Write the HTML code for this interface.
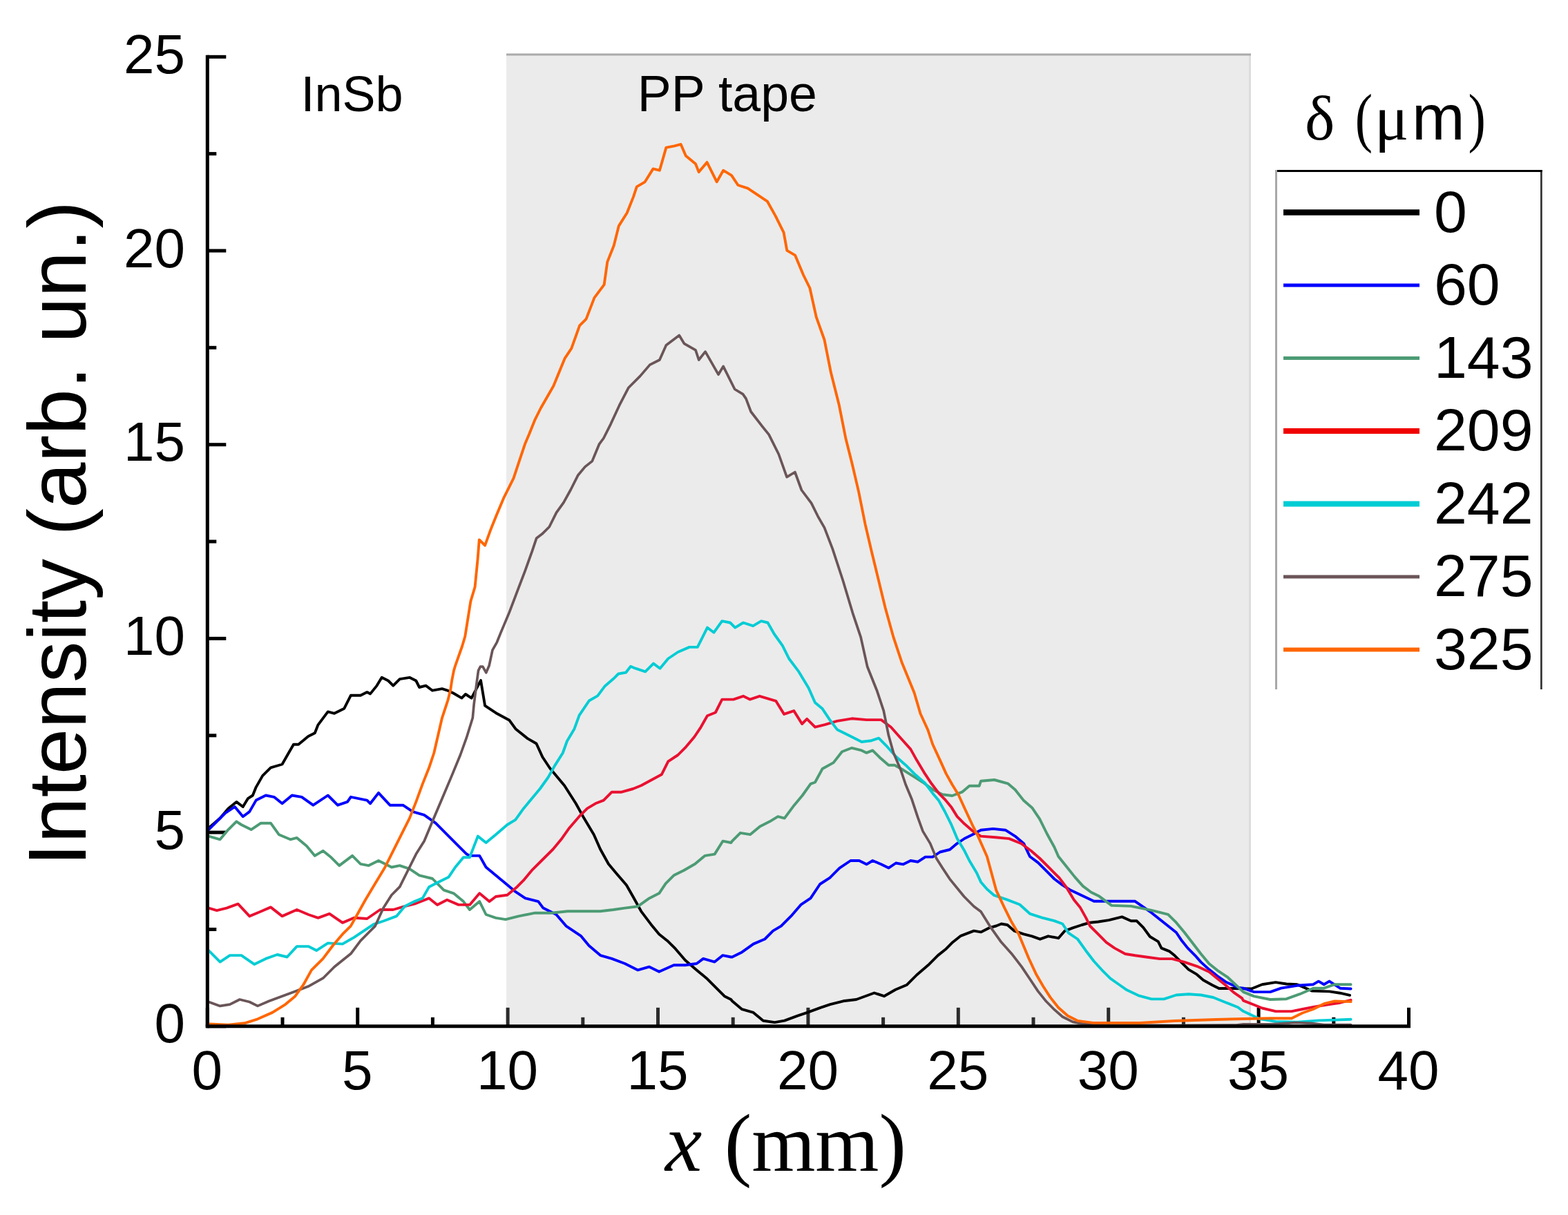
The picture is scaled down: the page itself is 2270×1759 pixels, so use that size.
<!DOCTYPE html>
<html><head><meta charset="utf-8"><title>Intensity vs x</title>
<style>
html,body{margin:0;padding:0;background:#fff;}
body{width:2270px;height:1759px;overflow:hidden;}
svg{display:block;}
.s{font-family:"Liberation Sans",Arial,sans-serif;}
.r{font-family:"Liberation Serif","Times New Roman",serif;}
</style></head><body>
<svg width="2270" height="1759" viewBox="0 0 2270 1759">
<rect x="0" y="0" width="2270" height="1759" fill="#ffffff"/>

<rect x="733" y="77.5" width="1078" height="1408.3" fill="#ebebeb"/>
<rect x="1808" y="77.5" width="3" height="1408.3" fill="#dcdcdc"/>
<rect x="733" y="77.5" width="1078" height="3" fill="#ababab"/>
<line x1="300.3" y1="1485.8" x2="300.3" y2="1458.8" stroke="#000" stroke-width="5"/>
<line x1="517.7" y1="1485.8" x2="517.7" y2="1458.8" stroke="#000" stroke-width="5"/>
<line x1="735.1" y1="1485.8" x2="735.1" y2="1458.8" stroke="#2b2b2b" stroke-width="5"/>
<line x1="952.5" y1="1485.8" x2="952.5" y2="1458.8" stroke="#2b2b2b" stroke-width="5"/>
<line x1="1169.9" y1="1485.8" x2="1169.9" y2="1458.8" stroke="#2b2b2b" stroke-width="5"/>
<line x1="1387.3" y1="1485.8" x2="1387.3" y2="1458.8" stroke="#2b2b2b" stroke-width="5"/>
<line x1="1604.7" y1="1485.8" x2="1604.7" y2="1458.8" stroke="#2b2b2b" stroke-width="5"/>
<line x1="1822.1" y1="1485.8" x2="1822.1" y2="1458.8" stroke="#000" stroke-width="5"/>
<line x1="2039.5" y1="1485.8" x2="2039.5" y2="1458.8" stroke="#000" stroke-width="5"/>
<line x1="409.0" y1="1485.8" x2="409.0" y2="1472.8" stroke="#000" stroke-width="5"/>
<line x1="626.4" y1="1485.8" x2="626.4" y2="1472.8" stroke="#000" stroke-width="5"/>
<line x1="843.8" y1="1485.8" x2="843.8" y2="1472.8" stroke="#2b2b2b" stroke-width="5"/>
<line x1="1061.2" y1="1485.8" x2="1061.2" y2="1472.8" stroke="#2b2b2b" stroke-width="5"/>
<line x1="1278.6" y1="1485.8" x2="1278.6" y2="1472.8" stroke="#2b2b2b" stroke-width="5"/>
<line x1="1496.0" y1="1485.8" x2="1496.0" y2="1472.8" stroke="#2b2b2b" stroke-width="5"/>
<line x1="1713.4" y1="1485.8" x2="1713.4" y2="1472.8" stroke="#2b2b2b" stroke-width="5"/>
<line x1="1930.8" y1="1485.8" x2="1930.8" y2="1472.8" stroke="#000" stroke-width="5"/>
<line x1="300.3" y1="1485.8" x2="327.3" y2="1485.8" stroke="#000" stroke-width="5"/>
<line x1="300.3" y1="1205.1" x2="327.3" y2="1205.1" stroke="#000" stroke-width="5"/>
<line x1="300.3" y1="924.4" x2="327.3" y2="924.4" stroke="#000" stroke-width="5"/>
<line x1="300.3" y1="643.7" x2="327.3" y2="643.7" stroke="#000" stroke-width="5"/>
<line x1="300.3" y1="363.0" x2="327.3" y2="363.0" stroke="#000" stroke-width="5"/>
<line x1="300.3" y1="82.3" x2="327.3" y2="82.3" stroke="#000" stroke-width="5"/>
<line x1="300.3" y1="1345.5" x2="313.3" y2="1345.5" stroke="#000" stroke-width="5"/>
<line x1="300.3" y1="1064.8" x2="313.3" y2="1064.8" stroke="#000" stroke-width="5"/>
<line x1="300.3" y1="784.0" x2="313.3" y2="784.0" stroke="#000" stroke-width="5"/>
<line x1="300.3" y1="503.3" x2="313.3" y2="503.3" stroke="#000" stroke-width="5"/>
<line x1="300.3" y1="222.6" x2="313.3" y2="222.6" stroke="#000" stroke-width="5"/>
<polyline fill="none" stroke="#000000" stroke-width="3.9" stroke-linejoin="round" stroke-linecap="round" points="302.1,1198.7 318.6,1184.6 330.5,1170.4 342.3,1160.9 351.7,1168.0 358.8,1156.2 365.9,1151.5 370.7,1139.6 380.1,1123.1 391.9,1111.3 408.5,1106.5 417.9,1090.0 425.0,1077.7 432.1,1077.7 446.3,1065.9 455.8,1061.2 460.5,1049.3 474.7,1030.4 484.1,1032.8 498.3,1025.7 507.8,1006.8 522.0,1006.8 531.4,1002.1 536.1,1004.4 545.6,992.6 552.7,980.8 562.1,985.5 569.2,992.6 578.7,983.1 592.9,980.8 602.3,985.5 607.1,995.0 616.5,992.6 626.0,999.7 640.0,997.2 647.1,999.3 656.3,1003.5 668.4,1010.6 674.0,1005.0 682.6,1010.6 696.0,985.1 702.1,1021.6 718.0,1032.2 737.5,1042.8 746.4,1055.2 764.1,1069.4 776.5,1076.5 785.4,1096.0 796.0,1112.0 817.1,1137.3 833.7,1163.3 845.5,1184.6 859.7,1208.2 869.1,1229.5 880.9,1250.8 892.8,1264.9 907.0,1281.5 916.4,1298.0 928.2,1319.3 942.4,1338.2 954.2,1352.4 966.1,1361.9 977.9,1373.7 992.1,1390.2 1008.6,1404.4 1022.8,1416.2 1037.0,1430.4 1048.8,1442.2 1058.3,1447.0 1060.0,1449.3 1074.2,1461.2 1090.7,1465.9 1104.9,1477.7 1121.5,1480.1 1135.7,1477.7 1154.6,1470.6 1168.7,1465.9 1187.7,1458.8 1201.8,1454.1 1220.8,1449.3 1239.7,1447.0 1265.7,1437.5 1279.9,1442.2 1296.4,1432.8 1313.0,1425.7 1327.1,1411.5 1343.7,1397.3 1357.9,1383.1 1369.7,1373.7 1379.1,1364.2 1391.0,1354.8 1409.9,1347.7 1420.0,1349.4 1431.8,1343.4 1442.2,1340.5 1449.6,1337.5 1458.4,1339.0 1468.8,1347.9 1482.1,1352.3 1493.9,1355.3 1505.7,1359.7 1517.5,1355.3 1532.3,1358.2 1541.2,1347.9 1553.0,1343.4 1566.3,1339.0 1577.9,1335.7 1589.8,1334.5 1605.2,1332.1 1624.3,1327.4 1637.4,1333.3 1645.7,1333.3 1655.2,1342.9 1664.8,1356.0 1676.7,1363.1 1681.4,1372.6 1693.3,1377.4 1700.5,1383.3 1720.7,1403.6 1732.6,1410.7 1742.1,1419.0 1755.2,1426.2 1764.8,1431.0 1786.2,1431.0 1811.7,1431.5 1827.2,1425.2 1846.7,1422.1 1862.3,1424.5 1877.8,1425.2 1899.6,1434.6 1924.5,1435.4 1940.1,1437.7 1954.1,1440.8"/>
<polyline fill="none" stroke="#0000ff" stroke-width="3.9" stroke-linejoin="round" stroke-linecap="round" points="302.1,1201.1 325.7,1177.5 339.9,1168.0 351.7,1182.2 361.2,1175.1 370.7,1158.6 384.8,1151.5 396.7,1153.8 408.5,1163.3 422.7,1151.5 436.8,1153.8 453.4,1165.7 474.7,1151.5 488.9,1165.7 503.0,1160.9 507.8,1153.8 531.4,1158.6 536.1,1163.3 548.0,1147.9 564.5,1165.7 583.4,1165.7 597.6,1175.1 614.1,1179.8 630.7,1191.7 649.6,1210.6 663.8,1224.8 675.6,1236.6 680.0,1238.9 694.2,1238.9 703.6,1255.5 717.8,1267.3 732.0,1279.1 746.2,1290.9 760.4,1300.4 779.3,1305.1 786.4,1314.6 805.3,1324.0 819.5,1340.6 840.8,1354.8 852.6,1369.0 869.1,1383.1 885.7,1387.9 904.6,1395.0 923.5,1404.4 940.0,1399.7 954.2,1406.8 975.5,1397.3 992.1,1397.3 1008.6,1395.0 1018.1,1387.9 1034.6,1392.6 1046.4,1383.1 1058.3,1385.5 1060.0,1385.5 1074.2,1378.4 1090.7,1366.6 1107.3,1359.5 1119.1,1347.7 1130.9,1340.6 1145.1,1326.4 1159.3,1309.9 1173.5,1300.4 1187.1,1280.0 1201.3,1270.8 1215.5,1256.6 1231.4,1246.0 1243.8,1246.0 1254.5,1251.3 1263.3,1246.0 1275.7,1251.3 1286.4,1256.6 1297.0,1249.5 1307.7,1251.3 1318.3,1246.0 1328.9,1247.7 1339.6,1240.6 1350.2,1240.6 1360.9,1233.5 1375.0,1230.0 1385.7,1221.1 1396.3,1214.0 1407.0,1208.7 1420.0,1201.7 1437.7,1199.9 1455.5,1201.7 1469.6,1210.6 1482.1,1221.2 1490.9,1240.0 1502.8,1248.9 1514.6,1260.7 1526.4,1272.5 1538.2,1281.4 1550.0,1288.8 1583.8,1304.8 1613.6,1304.8 1643.3,1304.8 1667.1,1321.4 1679.0,1331.0 1691.0,1340.5 1702.9,1350.0 1710.0,1360.7 1719.5,1372.6 1730.2,1383.3 1738.6,1392.9 1750.5,1403.6 1762.4,1413.1 1774.3,1421.4 1792.1,1429.8 1800.0,1430.7 1815.6,1436.1 1838.9,1436.1 1854.5,1430.7 1877.8,1426.8 1901.2,1425.2 1908.9,1420.6 1916.7,1425.2 1924.5,1420.6 1940.1,1430.7 1955.6,1431.5"/>
<polyline fill="none" stroke="#4c9b74" stroke-width="3.9" stroke-linejoin="round" stroke-linecap="round" points="302.1,1210.6 318.6,1215.3 330.5,1201.1 342.3,1189.3 349.4,1194.0 363.6,1201.1 377.7,1191.7 391.9,1191.7 403.7,1208.2 420.3,1215.3 429.8,1212.9 443.9,1224.8 455.8,1238.9 467.6,1231.8 479.4,1241.3 491.2,1253.1 510.1,1238.9 522.0,1250.8 533.8,1253.1 548.0,1246.0 566.9,1255.5 578.7,1253.1 592.9,1257.8 607.1,1267.3 626.0,1272.0 642.5,1288.6 656.7,1293.3 670.9,1305.1 680.0,1317.0 694.2,1305.1 703.6,1324.0 717.8,1328.8 732.0,1331.1 750.9,1326.4 774.6,1321.7 798.2,1321.7 821.8,1319.3 845.5,1319.3 869.1,1319.3 888.0,1317.0 904.6,1314.6 923.5,1312.2 940.0,1300.4 954.2,1293.3 963.7,1279.1 975.5,1267.3 989.7,1260.2 1006.2,1250.8 1020.4,1238.9 1034.6,1236.6 1046.4,1217.7 1058.3,1220.0 1060.0,1217.7 1071.8,1205.8 1086.0,1208.2 1100.2,1196.4 1114.4,1189.3 1126.2,1182.2 1135.7,1184.6 1149.8,1165.7 1161.7,1151.5 1173.5,1134.9 1180.0,1132.5 1190.6,1113.0 1206.6,1104.1 1219.0,1088.2 1233.2,1082.8 1247.4,1086.4 1254.5,1089.9 1263.3,1086.4 1274.0,1097.0 1286.4,1107.7 1295.2,1107.7 1307.7,1114.8 1321.8,1123.6 1336.0,1132.5 1350.2,1143.1 1364.4,1150.2 1378.6,1152.0 1392.8,1146.7 1403.4,1137.8 1417.6,1137.8 1420.0,1130.8 1439.5,1129.0 1459.0,1134.3 1469.6,1143.2 1482.1,1159.1 1494.5,1169.8 1505.1,1185.7 1515.7,1207.0 1526.4,1226.5 1532.3,1240.0 1544.1,1254.8 1556.0,1269.6 1567.8,1282.9 1579.6,1291.7 1591.4,1297.6 1609.2,1310.9 1637.4,1311.9 1667.1,1317.9 1691.0,1323.8 1702.9,1335.7 1714.8,1350.0 1726.7,1365.5 1738.6,1381.0 1750.5,1395.2 1762.4,1404.8 1776.7,1414.3 1792.1,1428.6 1800.0,1436.1 1815.6,1442.4 1838.9,1447.0 1862.3,1446.2 1881.7,1439.2 1901.2,1430.7 1916.7,1430.7 1932.3,1425.2 1955.6,1425.2"/>
<polyline fill="none" stroke="#ea1030" stroke-width="3.9" stroke-linejoin="round" stroke-linecap="round" points="302.1,1314.6 313.9,1318.1 328.1,1314.6 344.6,1308.7 361.2,1326.4 375.4,1320.5 391.9,1313.4 408.5,1326.4 429.8,1317.0 446.3,1324.0 460.5,1328.8 477.0,1322.9 495.9,1335.9 512.5,1328.8 531.4,1330.0 550.3,1317.0 569.2,1317.0 585.8,1312.2 600.0,1308.7 621.2,1300.4 633.1,1309.9 647.2,1302.8 663.8,1309.9 680.0,1309.9 694.2,1293.3 708.4,1305.1 717.8,1298.0 734.4,1295.7 748.6,1283.9 758.0,1274.4 769.8,1260.2 784.0,1246.0 800.6,1229.5 812.4,1215.3 824.2,1198.7 838.4,1182.2 850.2,1170.4 862.0,1163.3 873.9,1158.6 885.7,1146.7 899.9,1146.7 916.4,1142.0 928.2,1137.3 957.8,1121.3 967.3,1102.4 981.5,1093.0 993.3,1081.1 1005.1,1067.0 1014.6,1052.8 1024.0,1036.2 1035.8,1031.5 1045.3,1012.6 1061.8,1012.6 1076.0,1007.8 1085.5,1012.6 1099.7,1007.8 1123.3,1014.9 1135.1,1033.9 1149.3,1029.1 1161.1,1048.0 1168.2,1040.9 1180.0,1052.7 1194.2,1049.1 1211.9,1043.8 1233.2,1040.3 1254.5,1042.1 1275.7,1042.1 1289.9,1052.7 1304.1,1068.7 1318.3,1084.6 1327.2,1100.6 1337.8,1118.3 1348.4,1134.3 1359.1,1148.4 1367.9,1157.3 1376.8,1167.9 1385.7,1182.1 1396.3,1192.8 1408.7,1203.4 1420.0,1210.6 1441.3,1212.3 1460.8,1214.1 1478.5,1221.2 1492.7,1231.8 1505.1,1242.5 1519.3,1256.7 1533.5,1270.9 1544.1,1285.0 1554.8,1302.8 1563.6,1313.4 1572.5,1329.4 1577.9,1340.5 1589.8,1352.4 1601.7,1364.3 1613.6,1372.6 1629.0,1381.0 1643.3,1383.3 1661.2,1385.7 1679.0,1388.1 1696.9,1388.1 1714.8,1392.9 1732.6,1398.8 1750.5,1407.1 1762.4,1416.7 1774.3,1426.2 1786.2,1436.9 1798.1,1445.2 1800.0,1448.6 1815.6,1454.8 1827.2,1459.5 1846.7,1464.1 1870.0,1464.1 1885.6,1461.0 1901.2,1457.9 1924.5,1454.0 1940.1,1451.7 1955.6,1447.8"/>
<polyline fill="none" stroke="#00ccd4" stroke-width="3.9" stroke-linejoin="round" stroke-linecap="round" points="302.1,1376.1 318.6,1392.6 332.8,1383.1 349.4,1383.1 368.3,1396.1 384.8,1387.9 401.4,1382.0 415.6,1385.5 429.8,1370.1 446.3,1370.1 458.1,1376.1 474.7,1365.4 495.9,1366.6 512.5,1357.1 526.7,1347.7 540.9,1338.2 555.0,1333.5 574.0,1326.4 585.8,1312.2 600.0,1305.1 611.8,1300.4 621.2,1283.9 635.4,1276.8 649.6,1269.7 659.1,1255.5 670.9,1241.3 680.0,1241.3 691.8,1210.6 703.6,1220.0 717.8,1208.2 734.4,1194.0 746.2,1186.9 758.0,1170.4 769.8,1156.2 781.7,1142.0 793.5,1125.5 802.9,1108.9 814.8,1090.0 820.9,1073.0 831.5,1055.2 838.6,1035.7 852.8,1014.5 865.2,1007.4 875.8,993.2 888.2,982.6 895.3,975.5 906.0,973.7 913.0,964.8 920.0,967.7 934.2,972.4 946.0,960.6 955.5,967.7 967.3,953.5 981.5,944.0 998.0,936.9 1009.8,936.9 1024.0,908.6 1033.5,915.7 1045.3,899.1 1057.1,901.5 1064.2,908.6 1076.0,901.5 1090.2,906.2 1102.0,899.1 1111.5,901.5 1120.9,918.0 1132.8,934.6 1142.2,953.5 1156.4,972.4 1170.6,996.0 1180.0,1017.2 1190.6,1026.1 1201.3,1042.1 1211.9,1056.2 1229.6,1065.1 1247.4,1074.0 1261.6,1072.2 1272.2,1068.7 1282.8,1079.3 1297.0,1095.2 1311.2,1107.7 1325.4,1121.8 1339.6,1134.3 1350.2,1148.4 1359.1,1159.1 1367.9,1175.0 1376.8,1192.8 1385.7,1214.0 1396.3,1231.8 1403.4,1246.0 1414.0,1263.7 1420.0,1276.9 1428.9,1287.3 1439.2,1296.2 1456.9,1302.1 1476.2,1309.5 1490.9,1322.8 1508.7,1328.7 1526.4,1333.1 1538.2,1337.5 1547.1,1350.8 1560.0,1359.5 1571.9,1376.2 1583.8,1391.7 1595.7,1404.8 1607.6,1416.7 1619.5,1425.0 1631.4,1433.3 1649.3,1441.7 1667.1,1446.4 1685.0,1446.4 1702.9,1440.5 1720.7,1439.3 1738.6,1440.5 1756.4,1444.0 1774.3,1451.2 1792.1,1458.3 1800.0,1464.1 1811.7,1469.6 1823.3,1475.0 1846.7,1478.9 1877.8,1479.7 1908.9,1477.4 1932.3,1476.6 1955.6,1475.8"/>
<polyline fill="none" stroke="#6a5558" stroke-width="3.7" stroke-linejoin="round" stroke-linecap="round" points="302.1,1450.5 318.6,1456.4 332.8,1454.1 347.0,1447.0 361.2,1450.5 373.0,1456.4 389.6,1449.3 408.5,1442.2 427.4,1435.2 446.3,1428.1 467.6,1416.2 484.1,1399.7 495.9,1390.2 507.8,1380.8 522.0,1361.9 533.8,1350.0 543.2,1340.6 555.0,1314.6 566.9,1295.7 578.7,1283.9 590.5,1260.2 602.3,1236.6 614.1,1217.7 626.0,1189.3 640.0,1156.3 654.2,1122.6 666.6,1092.5 675.5,1067.7 684.3,1039.3 686.1,1020.0 689.6,992.2 692.5,970.9 695.3,965.2 698.9,965.2 703.8,973.8 708.1,963.8 713.0,941.1 719.4,929.8 725.1,915.6 737.2,886.9 749.7,853.8 760.0,826.9 770.4,797.9 776.6,779.3 784.8,773.1 795.2,762.8 805.5,742.1 815.9,727.6 826.2,709.0 836.6,688.3 846.9,675.9 857.3,667.6 867.6,642.8 873.8,634.5 884.2,613.8 896.6,586.9 910.0,561.2 926.6,544.6 940.8,528.1 954.9,521.0 964.4,499.7 983.3,485.5 990.4,497.3 1007.0,506.8 1011.7,521.0 1021.1,509.1 1040.0,542.2 1047.1,530.4 1063.7,563.5 1075.5,570.6 1080.0,577.1 1087.1,596.0 1103.6,617.3 1113.1,629.1 1127.3,657.5 1139.1,690.6 1150.9,683.5 1160.4,709.5 1174.6,728.4 1184.0,747.3 1193.5,763.9 1205.3,794.6 1220.2,840.0 1234.4,887.3 1246.2,922.7 1255.7,965.3 1269.9,1000.8 1279.3,1029.1 1286.4,1064.6 1293.5,1089.9 1304.1,1114.8 1311.2,1136.0 1320.1,1157.3 1328.9,1183.9 1336.0,1203.4 1346.7,1221.1 1355.5,1242.4 1364.4,1256.6 1375.0,1272.6 1395.7,1298.0 1409.9,1312.2 1420.0,1319.8 1434.8,1343.4 1449.6,1364.1 1464.3,1380.4 1479.1,1399.6 1490.9,1417.3 1502.8,1435.1 1514.6,1449.8 1526.4,1461.7 1538.2,1472.0 1553.0,1479.4 1567.8,1482.4 1600.0,1484.0 1700.0,1484.5 1790.0,1484.0 1800.0,1482.8 1838.9,1482.8 1876.3,1480.5 1897.3,1481.3 1916.7,1483.6 1955.6,1483.6"/>
<polyline fill="none" stroke="#ff6600" stroke-width="3.9" stroke-linejoin="round" stroke-linecap="round" points="302.1,1482.4 330.5,1483.6 354.1,1481.3 373.0,1475.3 394.3,1465.9 413.2,1454.1 427.4,1442.2 439.2,1425.7 451.0,1404.4 467.6,1387.9 481.8,1369.0 495.9,1352.4 507.8,1340.6 517.2,1324.0 529.0,1302.8 543.2,1279.1 557.4,1255.5 569.2,1231.8 581.1,1208.2 592.9,1184.6 602.3,1160.9 611.8,1134.9 621.2,1111.3 628.3,1090.0 640.0,1039.3 648.5,1013.5 652.1,999.3 654.2,985.1 657.0,970.9 659.1,963.8 664.1,949.6 669.1,935.5 673.3,921.3 681.4,870.4 687.6,849.7 691.7,808.3 693.8,781.4 702.1,789.7 710.3,766.9 718.6,746.2 729.0,721.4 743.5,692.4 751.7,667.6 760.0,642.8 766.2,628.3 774.5,607.6 782.8,591.0 801.3,558.8 817.8,518.6 827.3,504.4 839.1,471.3 848.6,461.9 860.4,431.1 874.6,412.2 879.3,379.1 888.7,355.5 895.8,327.1 907.7,308.2 917.1,284.6 921.8,270.4 933.7,263.3 945.5,244.4 954.9,246.7 964.4,213.6 976.2,211.3 985.7,208.9 992.8,225.5 1007.0,237.3 1011.7,249.1 1023.5,234.9 1037.7,263.3 1047.1,246.7 1059.0,253.8 1068.4,268.0 1082.6,272.7 1096.8,282.2 1111.0,291.7 1122.8,312.9 1134.6,336.6 1139.3,362.6 1151.2,369.7 1163.0,398.0 1172.4,417.0 1181.7,458.9 1193.5,492.0 1202.9,539.3 1214.8,586.6 1224.2,633.9 1233.7,671.7 1243.1,711.9 1252.6,759.1 1262.0,799.3 1281.7,880.2 1293.5,922.7 1305.3,958.2 1323.6,1003.0 1332.5,1033.2 1343.1,1056.2 1350.2,1077.5 1360.9,1100.6 1369.7,1120.1 1378.6,1136.0 1387.4,1150.2 1396.3,1169.7 1407.0,1192.8 1415.8,1210.5 1428.9,1240.0 1442.2,1288.8 1454.0,1313.9 1464.3,1334.6 1474.7,1352.3 1482.1,1370.0 1489.5,1387.8 1499.8,1409.9 1510.1,1427.7 1520.5,1443.9 1532.3,1458.7 1545.6,1470.5 1560.4,1477.9 1582.6,1480.9 1650.0,1481.0 1700.0,1478.0 1760.0,1476.0 1800.0,1475.0 1838.9,1474.3 1870.0,1474.3 1885.6,1466.5 1901.2,1461.0 1916.7,1453.2 1932.3,1449.4 1955.6,1450.1"/>
<line x1="300.3" y1="79.8" x2="300.3" y2="1488.3" stroke="#000" stroke-width="5"/>
<line x1="297.8" y1="1485.8" x2="2042.0" y2="1485.8" stroke="#000" stroke-width="5"/>
<text class="s" x="299.8" y="1577.3" font-size="80" text-anchor="middle">0</text>
<text class="s" x="517.2" y="1577.3" font-size="80" text-anchor="middle">5</text>
<text class="s" x="734.6" y="1577.3" font-size="80" text-anchor="middle">10</text>
<text class="s" x="952.0" y="1577.3" font-size="80" text-anchor="middle">15</text>
<text class="s" x="1169.4" y="1577.3" font-size="80" text-anchor="middle">20</text>
<text class="s" x="1386.8" y="1577.3" font-size="80" text-anchor="middle">25</text>
<text class="s" x="1604.2" y="1577.3" font-size="80" text-anchor="middle">30</text>
<text class="s" x="1821.6" y="1577.3" font-size="80" text-anchor="middle">35</text>
<text class="s" x="2039.0" y="1577.3" font-size="80" text-anchor="middle">40</text>
<text class="s" x="268" y="1509.3" font-size="80" text-anchor="end">0</text>
<text class="s" x="268" y="1228.6" font-size="80" text-anchor="end">5</text>
<text class="s" x="268" y="947.9" font-size="80" text-anchor="end">10</text>
<text class="s" x="268" y="667.2" font-size="80" text-anchor="end">15</text>
<text class="s" x="268" y="386.5" font-size="80" text-anchor="end">20</text>
<text class="s" x="268" y="105.8" font-size="80" text-anchor="end">25</text>
<text class="s" x="435.5" y="161.4" font-size="72">InSb</text>
<text class="s" x="922.8" y="161" font-size="73.5">PP tape</text>
<text class="s" font-size="119.5" transform="translate(124,1254) rotate(-90)">Intensity (arb. un.)</text>
<text class="r" x="963" y="1695.4" font-size="120" font-style="italic">x</text>
<text class="r" x="1048.7" y="1695" font-size="118.5">(mm)</text>
<rect x="1846" y="246" width="3" height="752" fill="#a8a8a8"/>
<rect x="2230" y="246" width="2.7" height="752" fill="#333"/>
<rect x="1849" y="246" width="383.6999999999998" height="3" fill="#000"/>
<line x1="1858" y1="307.5" x2="2055" y2="307.5" stroke="#000000" stroke-width="8.5"/>
<text class="s" x="2076" y="335.5" font-size="86">0</text>
<line x1="1858" y1="413.0" x2="2055" y2="413.0" stroke="#0000ff" stroke-width="4.8"/>
<text class="s" x="2076" y="441.0" font-size="86">60</text>
<line x1="1858" y1="518.5" x2="2055" y2="518.5" stroke="#4c9b74" stroke-width="5"/>
<text class="s" x="2076" y="546.5" font-size="86">143</text>
<line x1="1858" y1="624.0" x2="2055" y2="624.0" stroke="#f00000" stroke-width="8"/>
<text class="s" x="2076" y="652.0" font-size="86">209</text>
<line x1="1858" y1="729.5" x2="2055" y2="729.5" stroke="#00ccd4" stroke-width="8"/>
<text class="s" x="2076" y="757.5" font-size="86">242</text>
<line x1="1858" y1="835.0" x2="2055" y2="835.0" stroke="#6a5558" stroke-width="5"/>
<text class="s" x="2076" y="863.0" font-size="86">275</text>
<line x1="1858" y1="940.5" x2="2055" y2="940.5" stroke="#ff6600" stroke-width="6"/>
<text class="s" x="2076" y="968.5" font-size="86">325</text>
<text class="r" x="1889" y="202" font-size="92">δ</text>
<text class="r" font-size="95" transform="translate(1961.8,202) scale(0.8,1)">(</text>
<text class="r" x="1990" y="202" font-size="92">μ</text>
<text class="s" font-size="92" x="2044" y="202.4">m</text>
<text class="r" font-size="95" transform="translate(2125.4,202) scale(0.8,1)">)</text>
</svg></body></html>
